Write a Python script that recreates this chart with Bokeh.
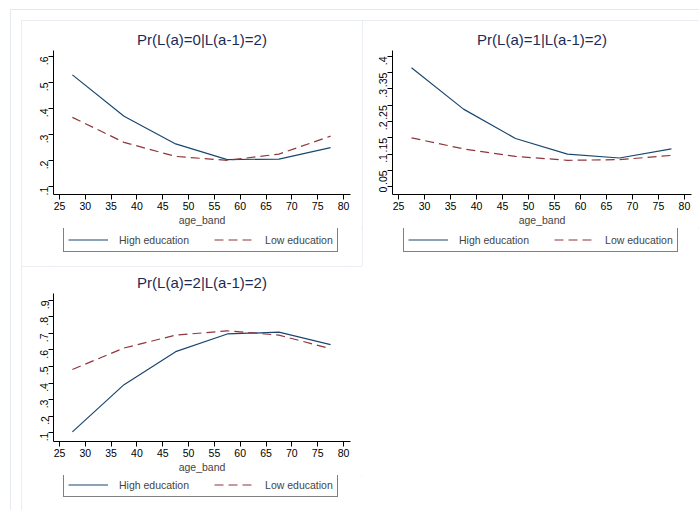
import math
from bokeh.plotting import figure
from bokeh.layouts import column, row
from bokeh.models import FixedTicker, Range1d, Legend, LegendItem, Spacer
from bokeh.embed import file_html
from bokeh.resources import INLINE

# ---- data ----
age = [27.5, 37.5, 47.5, 57.5, 67.5, 77.5]
p0_high = [0.529, 0.370, 0.264, 0.204, 0.206, 0.250]
p0_low = [0.366, 0.270, 0.216, 0.201, 0.225, 0.294]
p1_high = [0.365, 0.238, 0.148, 0.100, 0.088, 0.116]
p1_low = [0.150, 0.116, 0.093, 0.081, 0.083, 0.096]
p2_high = [0.104, 0.390, 0.590, 0.697, 0.708, 0.632]
p2_low = [0.482, 0.612, 0.690, 0.716, 0.690, 0.608]

titles = ["Pr(L(a)=0|L(a-1)=2)", "Pr(L(a)=1|L(a-1)=2)", "Pr(L(a)=2|L(a-1)=2)"]
x_ticks = [25, 30, 35, 40, 45, 50, 55, 60, 65, 70, 75, 80]
y_ticks0 = [0.1, 0.2, 0.3, 0.4, 0.5, 0.6]
y_labels0 = [".1", ".2", ".3", ".4", ".5", ".6"]
y_ticks1 = [0.0, 0.05, 0.1, 0.15, 0.2, 0.25, 0.3, 0.35, 0.4]
y_labels1 = ["0", ".05", ".1", ".15", ".2", ".25", ".3", ".35", ".4"]
y_ticks2 = [0.1, 0.2, 0.3, 0.4, 0.5, 0.6, 0.7, 0.8, 0.9]
y_labels2 = [".1", ".2", ".3", ".4", ".5", ".6", ".7", ".8", ".9"]
series_names = ["High education", "Low education"]
x_label = "age_band"

NAVY = "#1a476f"
MAROON = "#90353b"
FONT = "Liberation Sans"
PANEL_BORDER = "#e3e8f1"
DASH = "9 5"


def make_plot(title, high, low, yticks, ylabels, yrange, width, height,
              bl, br, bt, bb):
    p = figure(width=width, height=height, output_backend="svg",
               toolbar_location=None, x_range=Range1d(23.84, 81.36),
               y_range=Range1d(*yrange), min_border_left=bl,
               min_border_right=br, min_border_top=bt, min_border_bottom=bb,
               background_fill_color="white", border_fill_color="white")
    p.outline_line_color = None
    p.grid.visible = False
    p.title.text = title
    p.title.align = "center"
    p.title.text_font = FONT
    p.title.text_font_style = "normal"
    p.title.text_font_size = "15px"
    p.title.text_color = "#1c2a56"
    p.title.standoff = 5

    for ax in (p.xaxis[0], p.yaxis[0]):
        ax.axis_line_color = "#000000"
        ax.major_tick_line_color = "#000000"
        ax.major_tick_out = 5
        ax.major_tick_in = 0
        ax.minor_tick_line_color = None
        ax.major_label_text_font = FONT
        ax.major_label_text_font_size = "10.5px"
        ax.major_label_text_color = "#000000"
        ax.major_label_standoff = 2

    p.xaxis[0].ticker = FixedTicker(ticks=x_ticks)
    p.xaxis[0].axis_label = x_label
    p.xaxis[0].axis_label_text_font = FONT
    p.xaxis[0].axis_label_text_font_style = "normal"
    p.xaxis[0].axis_label_text_font_size = "10.5px"
    p.xaxis[0].axis_label_standoff = 1

    p.yaxis[0].ticker = FixedTicker(ticks=yticks)
    p.yaxis[0].major_label_overrides = {t: l for t, l in zip(yticks, ylabels)}
    p.yaxis[0].major_label_orientation = math.pi / 2
    p.yaxis[0].major_label_standoff = 4

    p.line(age, high, line_color=NAVY, line_width=1.2)
    p.line(age, low, line_color=MAROON, line_width=1.2, line_dash=DASH)
    return p


def make_legend(high, low, width, height, lx, ly):
    # legend strip: series are drawn outside the visible range, only the
    # legend (which refers to them) is seen
    f = figure(width=width, height=height, output_backend="svg",
               toolbar_location=None, x_range=Range1d(0, 1),
               y_range=Range1d(0, 1), x_axis_location=None,
               y_axis_location=None, min_border=0,
               background_fill_color="white", border_fill_color="white")
    f.outline_line_color = None
    f.grid.visible = False
    r1 = f.line(age, high, line_color=NAVY, line_width=1.2)
    r2 = f.line(age, low, line_color=MAROON, line_width=1.2, line_dash=DASH)
    leg = Legend(items=[LegendItem(label=series_names[0], renderers=[r1]),
                        LegendItem(label=series_names[1], renderers=[r2])],
                 orientation="horizontal", location=(lx, ly),
                 glyph_width=40, glyph_height=15, label_height=15,
                 label_standoff=11, spacing=25, padding=4, margin=0,
                 label_text_font=FONT, label_text_font_size="10.5px",
                 border_line_color="#000000", border_line_width=1,
                 background_fill_color="white", background_fill_alpha=1.0)
    f.add_layout(leg, "center")
    return f


box = {"outline": f"1px solid {PANEL_BORDER}", "outline-offset": "-1px"}

p1 = make_plot(titles[0], p0_high, p0_low, y_ticks0, y_labels0,
               (0.0699, 0.6226), 341, 208, 32, 12, 30, 31)
l1 = make_legend(p0_high, p0_low, 341, 38, 10, 14)
p2 = make_plot(titles[1], p1_high, p1_low, y_ticks1, y_labels1,
               (-0.024, 0.418), 337, 208, 30, 8, 30, 31)
l2 = make_legend(p1_high, p1_low, 337, 38, 11, 14)
p3 = make_plot(titles[2], p2_high, p2_low, y_ticks2, y_labels2,
               (0.046, 0.942), 341, 209, 32, 12, 27, 33)
l3 = make_legend(p2_high, p2_low, 341, 35, 10, 13)

c1 = column(p1, l1, spacing=0, styles=box)
c2 = column(p2, l2, spacing=0, styles=box)
c3 = column(p3, l3, spacing=0, styles=box)

inner = column(Spacer(height=11),
               row(Spacer(width=11), c1, c2),
               row(Spacer(width=11), c3),
               styles={"box-shadow": f"inset 1px 1px 0 {PANEL_BORDER}"})
layout = column(Spacer(height=9), row(Spacer(width=10), inner))

open("out.html", "w").write(file_html(layout, INLINE))
